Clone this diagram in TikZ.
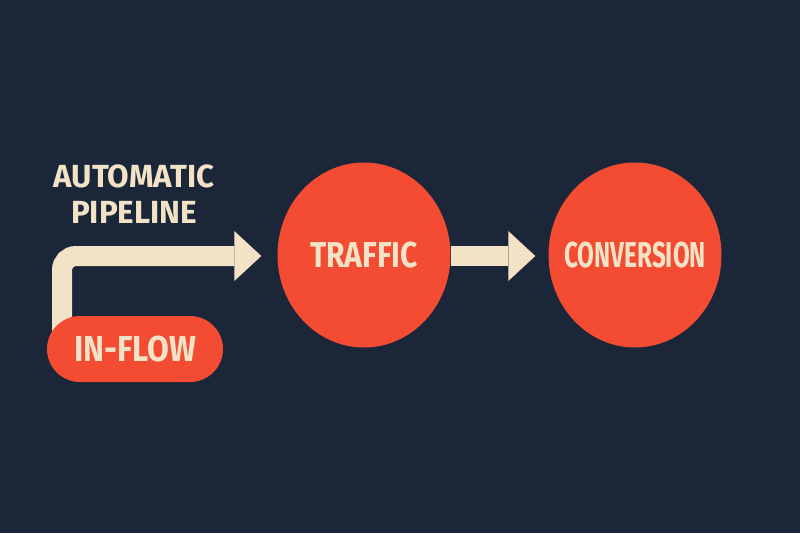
\documentclass[tikz,border=0pt]{standalone}
\usepackage{fontspec}
\usepackage{graphicx}
\newfontfamily\tagfont{Fira Sans}
\usetikzlibrary{arrows.meta,shapes.geometric,backgrounds}

\definecolor{navy}{HTML}{1B2639}
\definecolor{tomato}{HTML}{F44B33}
\definecolor{cream}{HTML}{F2E3C6}

% squeeze a word to a given width, keeping its height
\newcommand{\squeeze}[2]{\resizebox{#1}{\height}{#2}}

\begin{document}
\begin{tikzpicture}[x=1pt,y=-1pt,line cap=butt,line join=round]
  \tikzset{
    word/.style={text=cream,font=\tagfont\bfseries\fontsize{36}{40}\selectfont},
    blob/.style={ellipse,fill=tomato,inner sep=0pt,minimum width=173pt,minimum height=185pt,
      label={[word]center:#1}},
    pill/.style={rectangle,rounded corners=33pt,fill=tomato,minimum width=176pt,minimum height=66pt,word},
    pipe/.style={line width=20pt,cream,-{Triangle[length=27pt,width=50pt,line width=0pt]}},
    caption/.style={align=center,text=cream,font=\tagfont\bfseries\fontsize{32}{36}\selectfont}
  }
  \useasboundingbox (0,0) rectangle (800,533);

  % the three stages
  \node[blob={\squeeze{108pt}{TRAFFIC}}] (traffic) at (364,255) {};
  \node[blob={\squeeze{142pt}{CONVERSION}}] (conversion) at (635,255) {};
  \node[pill] (inflow) at (135,349) {\squeeze{122pt}{IN-FLOW}};
  \node[caption] (pipeline) at (134,194) {\squeeze{161pt}{AUTOMATIC}\\\squeeze{126pt}{PIPELINE}};

  \coordinate (bend) at (62,256);

  % pipes sit behind the pill
  \begin{scope}[on background layer]
    \fill[navy] (0,0) rectangle (800,533);
    \draw[pipe,rounded corners=14pt,shorten >=16pt] (bend |- inflow.center) -- (bend) -- (traffic.west |- bend);
  \end{scope}
  \draw[pipe,shorten >=13pt] (traffic.east |- bend) -- (conversion.west |- bend);
\end{tikzpicture}
\end{document}
